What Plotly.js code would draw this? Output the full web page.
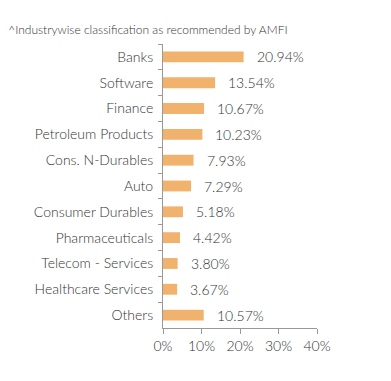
<!DOCTYPE html>
<html><head><meta charset="utf-8">
<script src="https://cdn.plot.ly/plotly-3.0.1.min.js"></script>
<style>html,body{margin:0;padding:0;background:#fff;}#chart{width:391px;height:381px;}</style>
</head><body><div id="chart"></div>
<script>
const categories = ["Banks","Software","Finance","Petroleum Products","Cons. N-Durables","Auto","Consumer Durables","Pharmaceuticals","Telecom - Services","Healthcare Services","Others"];
const values = [20.94,13.54,10.67,10.23,7.93,7.29,5.18,4.42,3.80,3.67,10.57];
const valueLabels = ["20.94%","13.54%","10.67%","10.23%","7.93%","7.29%","5.18%","4.42%","3.80%","3.67%","10.57%"];
const xTickVals = [0,10,20,30,40];
const xTickText = ["0%","10%","20%","30%","40%"];
const titleText = "^Industrywise classification as recommended by AMFI";

const font = {family: "Lato, 'Open Sans', sans-serif", size: 14, color: "#333", weight: 300};
const trace = {
  type: "bar", orientation: "h",
  x: values, y: categories,
  marker: {color: "#F1B26D"},
  width: 0.42,
  hoverinfo: "none"
};
const annotations = values.map((v, i) => ({
  x: v, y: categories[i], xref: "x", yref: "y",
  text: valueLabels[i], showarrow: false,
  xanchor: "left", yanchor: "middle", xshift: 11,
  font: font
}));
const layout = {
  width: 391, height: 381,
  margin: {l: 163, r: 74, t: 44, b: 53},
  paper_bgcolor: "#fff", plot_bgcolor: "#fff",
  font: font,
  showlegend: false,
  title: {text: titleText, x: 0.021, xanchor: "left", xref: "container", y: 0.922, yanchor: "middle", yref: "container",
          font: {family: "Lato, 'Open Sans', sans-serif", size: 12, color: "#333", weight: 300}},
  xaxis: {range: [0, 40], tickvals: xTickVals, ticktext: xTickText, showgrid: false, zeroline: false,
          showline: true, linecolor: "#999", linewidth: 1, ticks: "outside", ticklen: 5, tickcolor: "#999",
          fixedrange: true, tickfont: font},
  yaxis: {autorange: "reversed", showgrid: false, zeroline: false, showline: true, linecolor: "#999", linewidth: 1,
          ticks: "outside", tickson: "boundaries", ticklen: 4, tickcolor: "#999", ticklabelstandoff: 6, fixedrange: true,
          tickfont: font},
  annotations: annotations
};
Plotly.newPlot("chart", [trace], layout, {displayModeBar: false, staticPlot: true});
</script></body></html>
